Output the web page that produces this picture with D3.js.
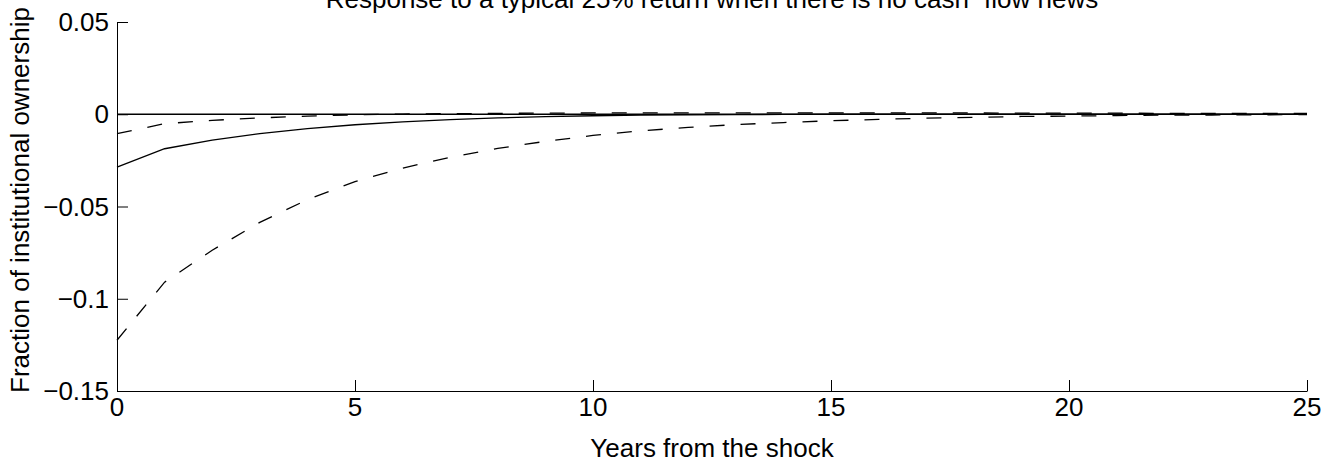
<!DOCTYPE html>
<html>
<head>
<meta charset="utf-8">
<script src="https://cdn.jsdelivr.net/npm/d3@7"></script>
<style>
  html, body { margin: 0; padding: 0; background: #fff; }
  svg { display: block; }
  text { font-family: "Liberation Sans", Arial, Helvetica, sans-serif; fill: #000; }
</style>
</head>
<body>
<svg id="chart" width="1338" height="465"></svg>
<script>
// ---- data ----
const years = [0,1,2,3,4,5,6,7,8,9,10,11,12,13,14,15,16,17,18,19,20,21,22,23,24,25];
// point estimate (solid)
const response = [-0.0287,-0.0187,-0.0140,-0.0105,-0.0078,-0.0057,-0.0041,-0.0029,-0.0020,-0.0013,-0.0008,-0.0005,-0.0003,-0.0002,-0.0001,0,0,0,0,0,0,0,0,0,0,0];
// upper confidence band (dashed)
const upperBand = [-0.0105,-0.0051,-0.0033,-0.0020,-0.0010,-0.0003,0.0001,0.0003,0.0005,0.0006,0.0007,0.0007,0.0007,0.0007,0.0007,0.0007,0.0007,0.0007,0.0007,0.0006,0.0006,0.0006,0.0005,0.0005,0.0005,0.0004];
// lower confidence band (dashed)
const lowerBand = [-0.1225,-0.0910,-0.0737,-0.0586,-0.0463,-0.0365,-0.0292,-0.0233,-0.0185,-0.0147,-0.0115,-0.0090,-0.0071,-0.0056,-0.0045,-0.0035,-0.0028,-0.0021,-0.0017,-0.0012,-0.0010,-0.0007,-0.0005,-0.0004,-0.0003,-0.0002];
const zeroLine = years.map(() => 0);

const xTicks = [0,5,10,15,20,25];
const yTicks = [-0.15,-0.1,-0.05,0,0.05];
const yTickLabels = ["\u22120.15","\u22120.1","\u22120.05","0","0.05"];

const titleText = "Response to a typical 25% return when there is no cash\u2212flow news";
const xLabel = "Years from the shock";
const yLabel = "Fraction of institutional ownership";

// ---- chart ----
const svg = d3.select("#chart");
const x = d3.scaleLinear().domain([0,25]).range([117,1307]);
const y = d3.scaleLinear().domain([-0.15,0.05]).range([391,22]);
const fontSize = 26;

// axes (ticks pointing inward, MATLAB style)
const xAxis = d3.axisBottom(x).tickValues(xTicks).tickSizeInner(-11).tickSizeOuter(0).tickPadding(0).tickFormat(d3.format("d"));
const gx = svg.append("g").attr("transform", `translate(0,${y(-0.15)})`).call(xAxis);
gx.selectAll("text").remove();
const yAxis = d3.axisLeft(y).tickValues(yTicks).tickSizeInner(-11).tickSizeOuter(0).tickFormat((d,i) => yTickLabels[i]);
const gy = svg.append("g").attr("transform", `translate(${x(0)},0)`).call(yAxis);
gy.selectAll("text").remove();
svg.selectAll(".domain, .tick line").attr("stroke", "#000").attr("stroke-width", 1);

// tick labels
svg.append("g").selectAll("text").data(xTicks).join("text")
  .attr("x", d => x(d)).attr("y", y(-0.15) + 25)
  .attr("text-anchor", "middle").attr("font-size", fontSize)
  .text(d => d);
svg.append("g").selectAll("text").data(yTicks).join("text")
  .attr("x", x(0) - 8).attr("y", d => y(d)).attr("dy", "0.35em")
  .attr("text-anchor", "end").attr("font-size", fontSize)
  .text((d,i) => yTickLabels[i]);

// lines
const line = d3.line().x((d,i) => x(years[i])).y(d => y(d));
svg.append("path").datum(zeroLine).attr("d", line)
  .attr("fill","none").attr("stroke","#000").attr("stroke-width",1.3);
svg.append("path").datum(response).attr("d", line)
  .attr("fill","none").attr("stroke","#000").attr("stroke-width",1.3);
[upperBand, lowerBand].forEach(s => {
  svg.append("path").datum(s).attr("d", line)
    .attr("fill","none").attr("stroke","#000").attr("stroke-width",1.3)
    .attr("stroke-dasharray","15,16");
});

// titles
svg.append("text").attr("x", (x(0)+x(25))/2).attr("y", 8)
  .attr("text-anchor","middle").attr("font-size", fontSize).text(titleText);
svg.append("text").attr("x", (x(0)+x(25))/2).attr("y", 457)
  .attr("text-anchor","middle").attr("font-size", fontSize).text(xLabel);
svg.append("text").attr("transform", `translate(29,200) rotate(-90)`)
  .attr("text-anchor","middle").attr("font-size", fontSize).text(yLabel);
</script>
</body>
</html>
